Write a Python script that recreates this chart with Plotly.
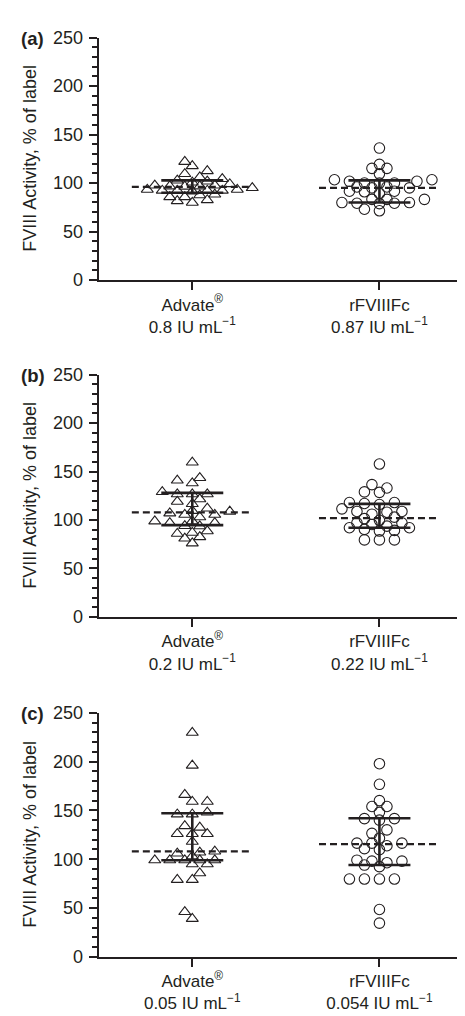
import plotly.graph_objects as go

# ---------------- data ----------------
categories = ["Advate", "rFVIIIFc"]
panel_letters = ["(a)", "(b)", "(c)"]
conc_advate = ["0.8", "0.2", "0.05"]
conc_rfviiifc = ["0.87", "0.22", "0.054"]

a_advate = [122, 117.6, 109.5, 112.5, 104.4, 106, 102.8, 101.8, 100.7, 99, 97.7, 96.7, 96.5, 96.7,
            97.7, 95, 93.3, 93.3, 92.3, 92.3, 92.3, 92.3, 91.6, 88.3, 87.6, 85.6, 85.6, 82.5, 81.5, 79.9]
a_rfviiifc = [136.1, 119.3, 115.2, 115.2, 109.5, 103.4, 103.4, 101.8, 101.8, 100, 100, 100, 95, 96, 95,
              96, 91.6, 91, 91.6, 89.3, 83.2, 83.2, 83.2, 79.9, 79.2, 78.8, 79.2, 79.9, 71.4, 73]
b_advate = [159.4, 143.5, 140.8, 138, 129, 126.7, 126.7, 126.7, 121.6, 116.6, 119, 112, 109.5, 107, 108.8,
            105.5, 105.5, 103, 98.7, 97, 94, 93.7, 97, 98.7, 87, 88.6, 86, 82.5, 81, 76]
b_rfviiifc = [157.7, 136.5, 133, 129, 128.5, 118, 116, 117, 118, 111.5, 108.8, 108.8, 108, 106, 101.4,
              97, 97, 99.7, 103, 95.4, 93.7, 92, 89.3, 92, 88.6, 90.3, 79.5, 79.5, 79.5]
c_advate = [229.6, 196, 166, 159, 159, 146, 146, 148, 134, 132.5, 126, 126, 126, 118, 108, 106, 107, 103,
            99, 99, 99, 99, 99, 95, 95, 85.7, 79, 79, 39, 46]
c_rfviiifc = [197.8, 176.7, 160, 154, 154, 148, 141.6, 140, 141.6, 130, 126.5, 121.5, 116.5, 116.5, 116.5,
              113.8, 110.8, 109.8, 98, 96.4, 98, 99, 92.4, 94, 79.7, 79.7, 79.7, 79.7, 48.5, 34.5]

# median and interquartile range as drawn in the reference  [Advate, rFVIIIFc]
medians = [[96, 95], [107.8, 102], [108, 115.5]]
q1s = [[90, 80], [94.7, 92], [99, 94]]
q3s = [[102.8, 102.8], [128, 116.6], [147, 142]]

panels = [[a_advate, a_rfviiifc], [b_advate, b_rfviiifc], [c_advate, c_rfviiifc]]

y_ticks = [0, 50, 100, 150, 200, 250]

# ---------------- layout geometry ----------------
W, H = 465, 1016
PX_PER_Y = 247.5 / 250.0          # pixel per y unit
PX_PER_X = (W - 90.7) / 2.0       # pixel per x unit (range -0.5..1.5)
panel_px = [(20.0, 267.3), (363.7, 611.0), (708.7, 957.7)]
INK = "#231f20"
FONT = "Liberation Sans, Arial, sans-serif"


def swarm_offsets(vals, step=7.5, sx=9.0, sy=7.0):
    """Beeswarm layout on a grid of horizontal slots (pixel based, elliptic clearance)."""
    order = sorted(range(len(vals)), key=lambda i: vals[i])
    placed = []
    offs = [0.0] * len(vals)
    for n, i in enumerate(order):
        y = vals[i] * PX_PER_Y
        cands = [0]
        for k in range(1, 30):
            cands += [k, -k] if n % 2 == 0 else [-k, k]
        for k in cands:
            x = k * step
            if all(((x - px) / sx) ** 2 + ((y - py) / sy) ** 2 >= 1 for px, py in placed):
                placed.append((x, y))
                offs[i] = x / PX_PER_X
                break
    return offs


fig = go.Figure()
layout = dict(
    width=W, height=H, margin=dict(l=0, r=0, t=0, b=0),
    paper_bgcolor="white", plot_bgcolor="white", showlegend=False,
    font=dict(family=FONT, color=INK, size=17),
    annotations=[],
)

symbols = ["triangle-up-open", "circle-open"]
sizes = [10.5, 10.5]

for p in range(3):
    sfx = "" if p == 0 else str(p + 1)
    xa, ya = "x" + sfx, "y" + sfx
    top, bot = panel_px[p]
    dom = [1 - bot / H, 1 - top / H]

    for c in range(2):
        vals = panels[p][c]
        offs = swarm_offsets(vals)
        fig.add_trace(go.Scatter(
            x=[c + o for o in offs], y=vals, mode="markers", xaxis=xa, yaxis=ya,
            marker=dict(symbol=symbols[c], size=sizes[c], color=INK, line=dict(width=1.1, color=INK)),
            hoverinfo="y"))
        # median dashed line
        fig.add_trace(go.Scatter(
            x=[c - 0.323, c + 0.323], y=[medians[p][c]] * 2, mode="lines", xaxis=xa, yaxis=ya,
            line=dict(color=INK, width=2.2, dash="7px,4px"), hoverinfo="skip"))
        # interquartile range bar
        fig.add_trace(go.Scatter(
            x=[c], y=[medians[p][c]], mode="markers", xaxis=xa, yaxis=ya,
            marker=dict(size=1, opacity=0),
            error_y=dict(type="data", symmetric=False,
                         array=[q3s[p][c] - medians[p][c]],
                         arrayminus=[medians[p][c] - q1s[p][c]],
                         width=31, thickness=2.6, color=INK),
            hoverinfo="skip"))

    ticktext = [
        f"Advate<sup>®</sup><br>{conc_advate[p]} IU mL<sup>−1</sup>",
        f"rFVIIIFc<br>{conc_rfviiifc[p]} IU mL<sup>−1</sup>",
    ]
    layout["xaxis" + sfx] = dict(
        domain=[90.7 / W, 1.0], range=[-0.5, 1.5], anchor=ya,
        showline=True, linecolor=INK, linewidth=2.2, showgrid=False, zeroline=False,
        tickvals=[0, 1], ticktext=ticktext, ticks="outside", ticklen=8, tickwidth=2,
        tickcolor=INK, tickfont=dict(size=17, color=INK, family=FONT), fixedrange=True,
        ticklabelstandoff=0,
    )
    layout["yaxis" + sfx] = dict(
        domain=dom, range=[0, 250], anchor=xa,
        showline=True, linecolor=INK, linewidth=2.2, showgrid=False, zeroline=False,
        tickvals=y_ticks, ticks="outside", ticklen=8, tickwidth=2, tickcolor=INK,
        tickfont=dict(size=18, color=INK, family=FONT), ticklabelstandoff=2,
        minor=dict(dtick=10, ticks="outside", ticklen=4.5, tickwidth=1.5, tickcolor=INK),
        fixedrange=True,
    )
    layout["annotations"].append(dict(
        text="FVIII Activity, % of label", textangle=-90, showarrow=False,
        xref="paper", yref="paper", x=22 / W, y=(dom[0] + dom[1]) / 2,
        xanchor="center", yanchor="middle", font=dict(size=18, color=INK, family=FONT)))
    layout["annotations"].append(dict(
        text=f"<b>{panel_letters[p]}</b>", showarrow=False,
        xref="paper", yref="paper", x=11 / W, y=1 - (top + 1) / H,
        xanchor="left", yanchor="middle", font=dict(size=18.5, color=INK, family=FONT)))

fig.update_layout(**layout)
fig.write_html("out.html")
